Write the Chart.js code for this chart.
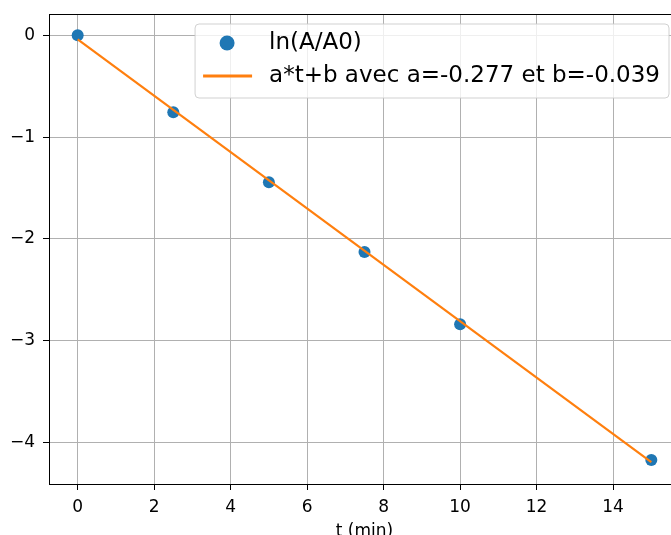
<!DOCTYPE html>
<html>
<head>
<meta charset="utf-8">
<script src="https://cdn.jsdelivr.net/npm/chart.js@4.4.0/dist/chart.umd.min.js"></script>
<style>
    html, body { margin: 0; padding: 0; background: #fff; overflow: hidden; }
    #cadre { width: 671px; height: 535px; overflow: hidden; }
</style>
</head>
<body>
<div id="cadre"><canvas id="graphe" width="700" height="535"></canvas></div>
<script>
// mesures
const temps = [0, 2.5, 5, 7.5, 10, 15];
const lnRapport = [0, -0.755, -1.445, -2.13, -2.84, -4.175];

// droite de regression a*t+b
const tempsFit = [0, 15];
const valeursFit = [-0.039, -4.194];

const ticksX = [0, 2, 4, 6, 8, 10, 12, 14];
const ticksY = [0, -1, -2, -3, -4];
const legendes = ["ln(A/A0)", "a*t+b avec a=-0.277 et b=-0.039"];
const titreX = "t (min)";

const police = "DejaVu Sans";
const bleu = "#1f77b4";
const orange = "#ff7f0e";

// cadre complet autour de la zone de trace (comme matplotlib)
const cadrePlugin = {
    id: "cadre",
    afterDatasetsDraw(chart) {
        const { ctx, chartArea } = chart;
        ctx.save();
        ctx.strokeStyle = "#000";
        ctx.lineWidth = 1;
        ctx.strokeRect(chartArea.left + 0.5, chartArea.top + 0.5,
            chartArea.right - chartArea.left, chartArea.bottom - chartArea.top);
        ctx.restore();
    }
};

// legende dans le coin haut droit
const legendePlugin = {
    id: "legende",
    afterDraw(chart) {
        const { ctx, chartArea } = chart;
        ctx.save();
        ctx.font = "23px '" + police + "'";
        const largeurTexte = Math.max(...legendes.map(t => ctx.measureText(t).width));
        const w = 74 + largeurTexte + 9;
        const h = 74;
        const droite = chartArea.right - 11;
        const x = droite - w;
        const y = chartArea.top + 10;
        const r = 4;

        ctx.beginPath();
        ctx.moveTo(x + r, y);
        ctx.arcTo(x + w, y, x + w, y + h, r);
        ctx.arcTo(x + w, y + h, x, y + h, r);
        ctx.arcTo(x, y + h, x, y, r);
        ctx.arcTo(x, y, x + w, y, r);
        ctx.closePath();
        ctx.fillStyle = "rgba(255,255,255,0.8)";
        ctx.fill();
        ctx.strokeStyle = "rgba(204,204,204,0.9)";
        ctx.lineWidth = 1;
        ctx.stroke();

        const y1 = y + 19;
        const y2 = y + 52;

        ctx.fillStyle = bleu;
        ctx.beginPath();
        ctx.arc(x + 32, y1, 7.5, 0, Math.PI * 2);
        ctx.fill();

        ctx.strokeStyle = orange;
        ctx.lineWidth = 3;
        ctx.beginPath();
        ctx.moveTo(x + 8, y2);
        ctx.lineTo(x + 57, y2);
        ctx.stroke();

        ctx.fillStyle = "#000";
        ctx.textBaseline = "middle";
        ctx.textAlign = "left";
        ctx.fillText(legendes[0], x + 74, y1);
        ctx.fillText(legendes[1], x + 74, y2);
        ctx.restore();
    }
};

function moins(v) {
    return v < 0 ? "\u2212" + (-v) : String(v);
}

// pas de marge automatique des axes : la zone de trace est fixee par layout.padding
function sansMarge(s) {
    s.paddingTop = 0;
    s.paddingBottom = 0;
    s.paddingLeft = 0;
    s.paddingRight = 0;
}

const ctx = document.getElementById("graphe").getContext("2d");
new Chart(ctx, {
    type: "scatter",
    data: {
        datasets: [
            {
                type: "line",
                label: legendes[1],
                data: tempsFit.map((t, i) => ({ x: t, y: valeursFit[i] })),
                borderColor: orange,
                borderWidth: 2.2,
                pointRadius: 0,
                fill: false,
                order: 0
            },
            {
                type: "scatter",
                label: legendes[0],
                data: temps.map((t, i) => ({ x: t, y: lnRapport[i] })),
                backgroundColor: bleu,
                borderWidth: 0,
                pointRadius: 6,
                order: 1
            }
        ]
    },
    options: {
        responsive: false,
        animation: false,
        devicePixelRatio: 1,
        layout: { padding: { top: 14, right: 20, bottom: 0, left: 0 } },
        plugins: {
            legend: { display: false },
            tooltip: { enabled: false }
        },
        scales: {
            x: {
                type: "linear",
                min: -0.75,
                max: 15.75,
                afterBuildTicks: s => { s.ticks = ticksX.map(v => ({ value: v })); },
                afterFit: s => { s.height = 51; sansMarge(s); },
                grid: { color: "#b0b0b0", lineWidth: 1, tickColor: "#000", tickLength: 6 },
                border: { display: true, color: "#000", width: 1 },
                ticks: {
                    color: "#000",
                    font: { family: police, size: 17 },
                    padding: 7,
                    maxRotation: 0,
                    autoSkip: false
                },
                title: {
                    display: true,
                    text: titreX,
                    color: "#000",
                    font: { family: police, size: 17, lineHeight: 1 },
                    padding: { top: 0, bottom: -5 }
                }
            },
            y: {
                type: "linear",
                min: -4.41,
                max: 0.21,
                afterBuildTicks: s => { s.ticks = ticksY.map(v => ({ value: v })); },
                afterFit: s => { s.width = 49; sansMarge(s); },
                grid: { color: "#b0b0b0", lineWidth: 1, tickColor: "#000", tickLength: 6 },
                border: { display: true, color: "#000", width: 1 },
                ticks: {
                    color: "#000",
                    font: { family: police, size: 17 },
                    padding: 8,
                    autoSkip: false,
                    callback: v => moins(v)
                }
            }
        }
    },
    plugins: [cadrePlugin, legendePlugin]
});
</script>
</body>
</html>
